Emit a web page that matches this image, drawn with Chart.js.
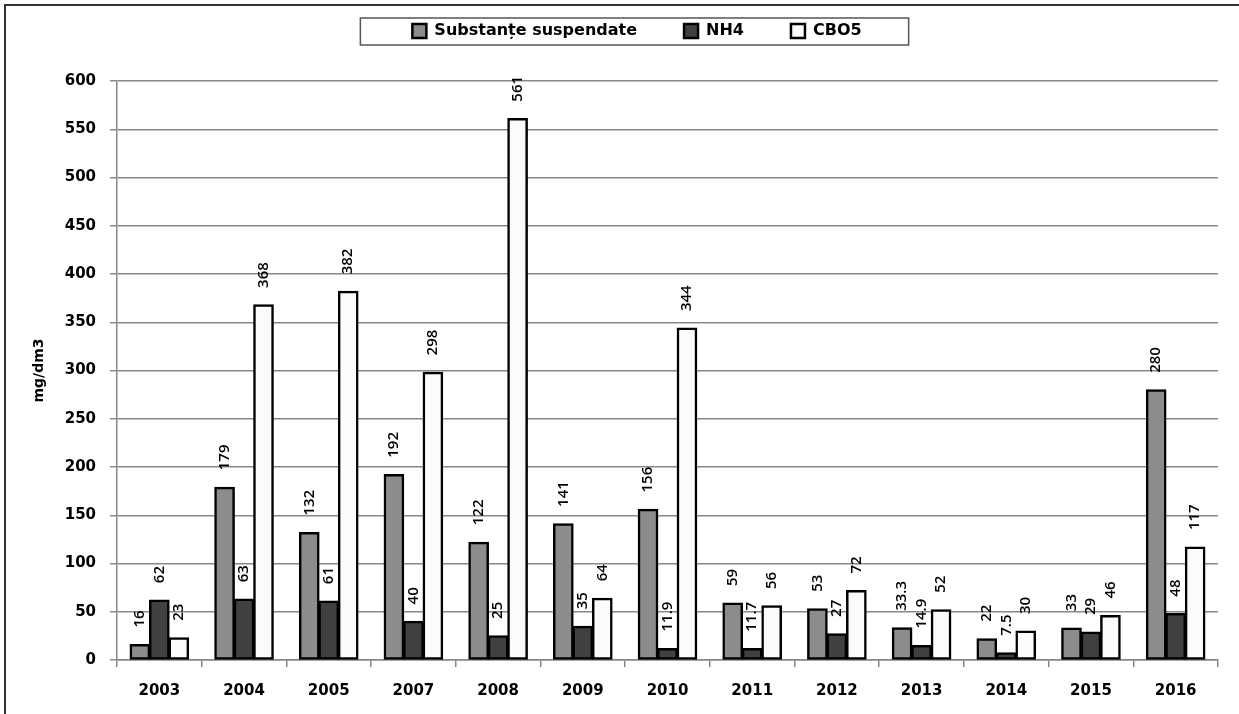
<!DOCTYPE html>
<html>
<head>
<meta charset="utf-8">
<script src="https://cdn.jsdelivr.net/npm/chart.js@4"></script>
<style>
  html, body { margin: 0; padding: 0; background: #fff; overflow: hidden; }
  #wrap { width: 1239px; height: 714px; }
  canvas { display: block; }
</style>
</head>
<body>
<div id="wrap"><canvas id="myChart" width="1239" height="714"></canvas></div>
<script>
var years = ['2003','2004','2005','2007','2008','2009','2010','2011','2012','2013','2014','2015','2016'];
var suspendate = [16, 179, 132, 192, 122, 141, 156, 59, 53, 33.3, 22, 33, 280];
var nh4 = [62, 63, 61, 40, 25, 35, 11.9, 11.7, 27, 14.9, 7.5, 29, 48];
var cbo5 = [23, 368, 382, 298, 561, 64, 344, 56, 72, 52, 30, 46, 117];

// rotated value labels above each bar
var valueLabels = {
    id: 'valueLabels',
    afterDatasetsDraw: function(chart) {
        var ctx = chart.ctx;
        ctx.save();
        ctx.font = '600 15px "Open Sans"';
        ctx.fillStyle = '#000';
        ctx.textAlign = 'left';
        ctx.textBaseline = 'middle';
        chart.data.datasets.forEach(function(ds, i) {
            chart.getDatasetMeta(i).data.forEach(function(bar, j) {
                ctx.save();
                ctx.translate(bar.x, bar.y - 17);
                ctx.rotate(-Math.PI / 2);
                ctx.fillText(String(ds.data[j]), 0, 0);
                ctx.restore();
            });
        });
        ctx.restore();
    }
};

// frame around legend + page border, extra room under the legend
var frames = {
    id: 'frames',
    beforeLayout: function(chart) {
        var lg = chart.legend;
        if (lg && !lg._patched) {
            var fit = lg.fit;
            lg.fit = function() { fit.call(this); this.height += 32; };
            lg._patched = true;
        }
    },
    afterLayout: function(chart) {
        // legend sits right of centre in the original
        chart.legend.left += 28;
        chart.legend.right += 28;
    },
    afterDraw: function(chart) {
        var ctx = chart.ctx;
        var hb = chart.legend.legendHitBoxes;
        ctx.save();
        if (hb && hb.length) {
            var last = hb[hb.length - 1];
            var l = hb[0].left - 52, r = last.left + last.width + 47;
            var t = hb[0].top + hb[0].height / 2 - 13;
            ctx.strokeStyle = '#555';
            ctx.lineWidth = 1.5;
            ctx.strokeRect(l, t, r - l, 27);
        }
        ctx.strokeStyle = '#333';
        ctx.lineWidth = 2;
        ctx.beginPath();
        ctx.moveTo(5, 714);
        ctx.lineTo(5, 5);
        ctx.lineTo(1239, 5);
        ctx.stroke();
        ctx.restore();
    }
};

var ctx = document.getElementById('myChart').getContext('2d');
var myChart = new Chart(ctx, {
    type: 'bar',
    data: {
        labels: years,
        datasets: [{
            label: 'Substanțe suspendate',
            data: suspendate,
            backgroundColor: '#8c8c8c',
        },
        {
            label: 'NH4',
            data: nh4,
            backgroundColor: '#404040',
        },
        {
            label: 'CBO5',
            data: cbo5,
            backgroundColor: '#fbfbfb',
        }]
    },
    options: {
        responsive: false,
        animation: false,
        datasets: {
            bar: {
                borderColor: '#000',
                borderWidth: 2.5,
                borderSkipped: false,
                inflateAmount: 0.6,
                categoryPercentage: 0.69,
                barPercentage: 1.0
            }
        },
        layout: {
            padding: { top: -24, right: 21, bottom: 0, left: 0 }
        },
        plugins: {
            legend: {
                display: true,
                position: 'top',
                labels: {
                    color: '#000',
                    boxWidth: 14,
                    boxHeight: 14,
                    padding: 47,
                    font: { family: 'DejaVu Sans', size: 16, weight: 'bold' }
                }
            },
            tooltip: { enabled: false }
        },
        scales: {
            x: {
                afterFit: function(s) { s.height = 54; },
                grid: {
                    drawOnChartArea: false,
                    drawTicks: true,
                    tickLength: 7,
                    color: '#888',
                    lineWidth: 1.5
                },
                border: { color: '#888', width: 1.5 },
                ticks: {
                    color: '#000',
                    padding: 15,
                    font: { family: 'DejaVu Sans', size: 15, weight: 'bold' }
                }
            },
            y: {
                min: 0,
                max: 600,
                afterFit: function(s) { s.width = 117; },
                ticks: {
                    stepSize: 50,
                    color: '#000',
                    padding: 14,
                    font: { family: 'DejaVu Sans', size: 15, weight: 'bold' }
                },
                grid: {
                    color: '#888',
                    lineWidth: 1.5,
                    tickLength: 7
                },
                border: { color: '#888', width: 1.5 },
                title: {
                    display: true,
                    text: 'mg/dm3',
                    color: '#000',
                    padding: { top: 31, bottom: 0 },
                    font: { family: 'DejaVu Sans', size: 14, weight: 'bold' }
                }
            }
        }
    },
    plugins: [valueLabels, frames]
});
</script>
</body>
</html>
